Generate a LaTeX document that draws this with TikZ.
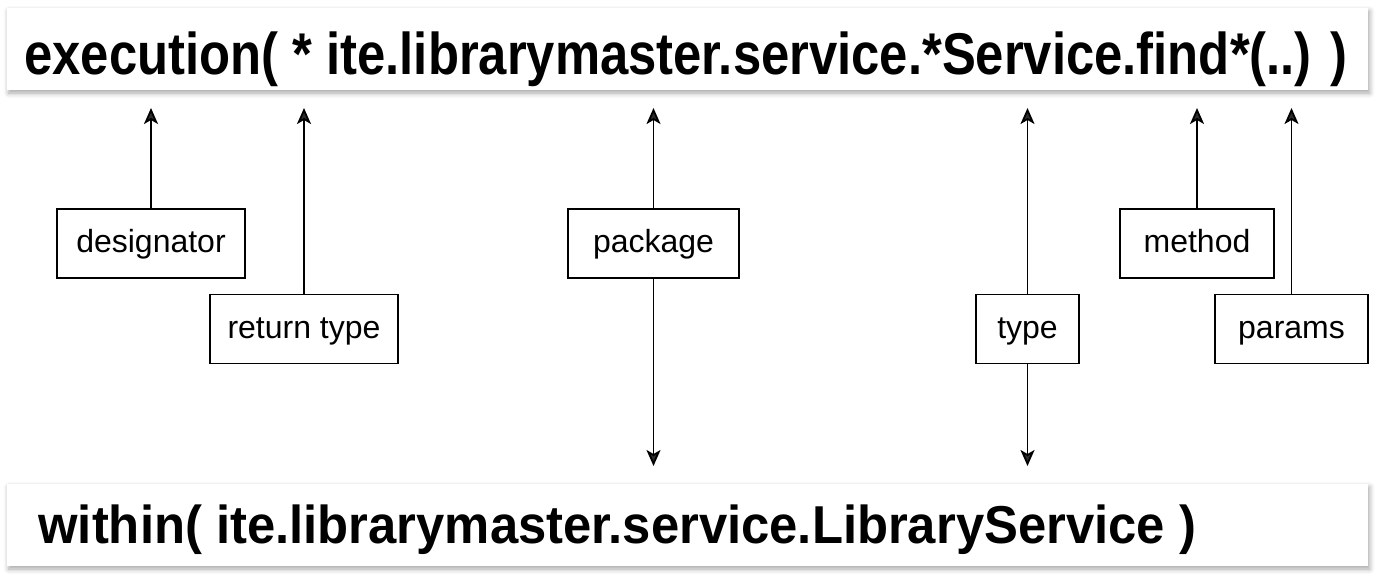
\documentclass[tikz,border=0pt]{standalone}
\usepackage{fontspec}
\setmainfont{Liberation Sans}
\usetikzlibrary{arrows.meta,positioning,shadows.blur}

\begin{document}
\begin{tikzpicture}[x=0.5pt,y=0.5pt,yscale=-1,xscale=1,
  panel/.style={fill=white, blur shadow={shadow xshift=0.8pt, shadow yshift=-1.5pt, shadow blur radius=2.5pt, shadow opacity=35}},
  tag/.style={draw, line width=0.8pt, minimum height=34.5pt, inner sep=0pt, text height=12pt, text depth=3pt, font=\fontsize{16}{19}\selectfont},
  link/.style={line width=0.9pt, -{Stealth[length=8pt,width=7pt,inset=2pt]}}]
\useasboundingbox (0,0) rectangle (1380,579);

%Shape: Rectangle (top bar)
\path[panel] (7,8) rectangle (1368,90);
%Shape: Rectangle (bottom bar)
\path[panel] (7,484) rectangle (1368,566);

% Text Node
\node[anchor=base, inner sep=0pt, font=\fontsize{25.4}{30}\selectfont\bfseries] (exec) at (686,74) {\scalebox{1}[1.16]{execution( * ite.librarymaster.service.*Service.find*(..) )}};
% Text Node
\node[anchor=base west, inner sep=0pt, font=\fontsize{25.4}{30}\selectfont\bfseries] (within) at (38,543) {\scalebox{1}[1.05]{within( ite.librarymaster.service.LibraryService )}};

% Label boxes
\node[tag, minimum width=94pt] (desig) at (151,243.5) {designator};
\node[tag, minimum width=94pt] (ret) at (304,329) {return type};
\node[tag, minimum width=85.5pt] (pkg) at (653.5,243.5) {package};
\node[tag, minimum width=51.5pt] (type) at (1027.5,329) {type};
\node[tag, minimum width=77pt] (meth) at (1197,243.5) {method};
\node[tag, minimum width=76.5pt] (par) at (1291.5,329) {params};

% arrow ends
\coordinate (up desig) at (151,108);
\coordinate (up ret) at (304,108);
\coordinate (up pkg) at (653.5,108);
\coordinate (up type) at (1027.5,108);
\coordinate (up meth) at (1197,108);
\coordinate (up par) at (1291.5,108);
\coordinate (down pkg) at (653.5,466);
\coordinate (down type) at (1027.5,466);

%Straight Lines
\draw[link] (desig) -- (up desig);
\draw[link] (ret) -- (up ret);
\draw[link] (pkg) -- (up pkg);
\draw[link] (pkg) -- (down pkg);
\draw[link] (type) -- (up type);
\draw[link] (type) -- (down type);
\draw[link] (meth) -- (up meth);
\draw[link] (par) -- (up par);

\end{tikzpicture}
\end{document}
